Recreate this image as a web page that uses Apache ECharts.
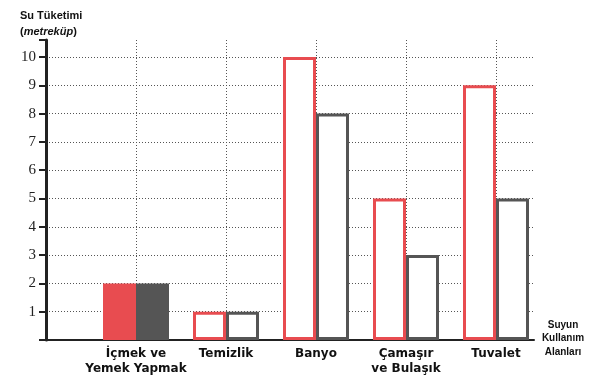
<!DOCTYPE html>
<html>
<head>
<meta charset="utf-8">
<script src="https://cdn.jsdelivr.net/npm/echarts@6/dist/echarts.min.js"></script>
<style>html,body{margin:0;padding:0;background:#fff}#c{width:602px;height:379px}</style>
</head>
<body>
<div id="c"></div>
<script>
var categories = ['İçmek ve\nYemek Yapmak', 'Temizlik', 'Banyo', 'Çamaşır\nve Bulaşık', 'Tuvalet'];
var redValues = [2, 1, 10, 5, 9];
var grayValues = [2, 1, 8, 3, 5];
var yTicks = [1, 2, 3, 4, 5, 6, 7, 8, 9, 10];

var RED = '#e84c50', GRAY = '#555555';
function build(vals, color) {
  return vals.map(function (v, i) {
    var filled = i === 0;
    return {
      value: [i + 1, v],
      itemStyle: filled ? { color: color, borderWidth: 0 } : { color: '#ffffff', borderColor: color, borderWidth: 3 }
    };
  });
}

var chart = echarts.init(document.getElementById('c'));
chart.setOption({
  animation: false,
  grid: { left: 46, right: 68, top: 40, bottom: 39 },
  xAxis: {
    type: 'value', min: 0, max: 5.4222, interval: 1,
    axisLine: { show: true, lineStyle: { color: '#222', width: 2 } },
    axisTick: { show: false },
    splitLine: { show: true, showMaxLine: false, showMinLine: false, lineStyle: { color: '#555', type: [1, 2], width: 1 } },
    axisLabel: {
      margin: 6, color: '#111', fontFamily: 'DejaVu Sans', fontWeight: 'bold', fontSize: 12, lineHeight: 15,
      formatter: function (v) { var i = Math.round(v) - 1; return (i >= 0 && i < categories.length && Math.abs(v - i - 1) < 1e-6) ? categories[i] : ''; }
    }
  },
  yAxis: {
    type: 'value', min: 0, max: 10.6, interval: 1,
    axisLine: { show: true, lineStyle: { color: '#222', width: 3 } },
    axisTick: { show: true, length: 7, lineStyle: { color: '#222', width: 2 } },
    splitLine: { show: true, showMaxLine: false, showMinLine: false, lineStyle: { color: '#555', type: [1, 2], width: 1 } },
    axisLabel: {
      margin: 10, color: '#222', fontFamily: 'Liberation Serif', fontSize: 15,
      formatter: function (v) { return yTicks.indexOf(v) >= 0 ? String(v) : ''; }
    }
  },
  series: [
    { type: 'bar', data: build(redValues, RED), barWidth: 33, barGap: '0%' },
    { type: 'bar', data: build(grayValues, GRAY), barWidth: 33, barGap: '0%' }
  ],
  graphic: [
    { type: 'text', left: 20, top: 10, style: { text: 'Su Tüketimi', fill: '#111', font: 'bold 11px "Liberation Sans"' } },
    { type: 'text', left: 20, top: 26, style: { text: '{a|(}{b|metreküp}{a|)}', rich: { a: { fill: '#111', font: 'bold 11px "Liberation Sans"' }, b: { fill: '#111', font: 'italic bold 11px "Liberation Sans"' } } } },
    { type: 'text', x: 563, y: 318, style: { text: 'Suyun\nKullanım\nAlanları', textAlign: 'center', fill: '#111', font: 'bold 10px "Liberation Sans"', lineHeight: 13.5 } }
  ]
});
</script>
</body>
</html>
